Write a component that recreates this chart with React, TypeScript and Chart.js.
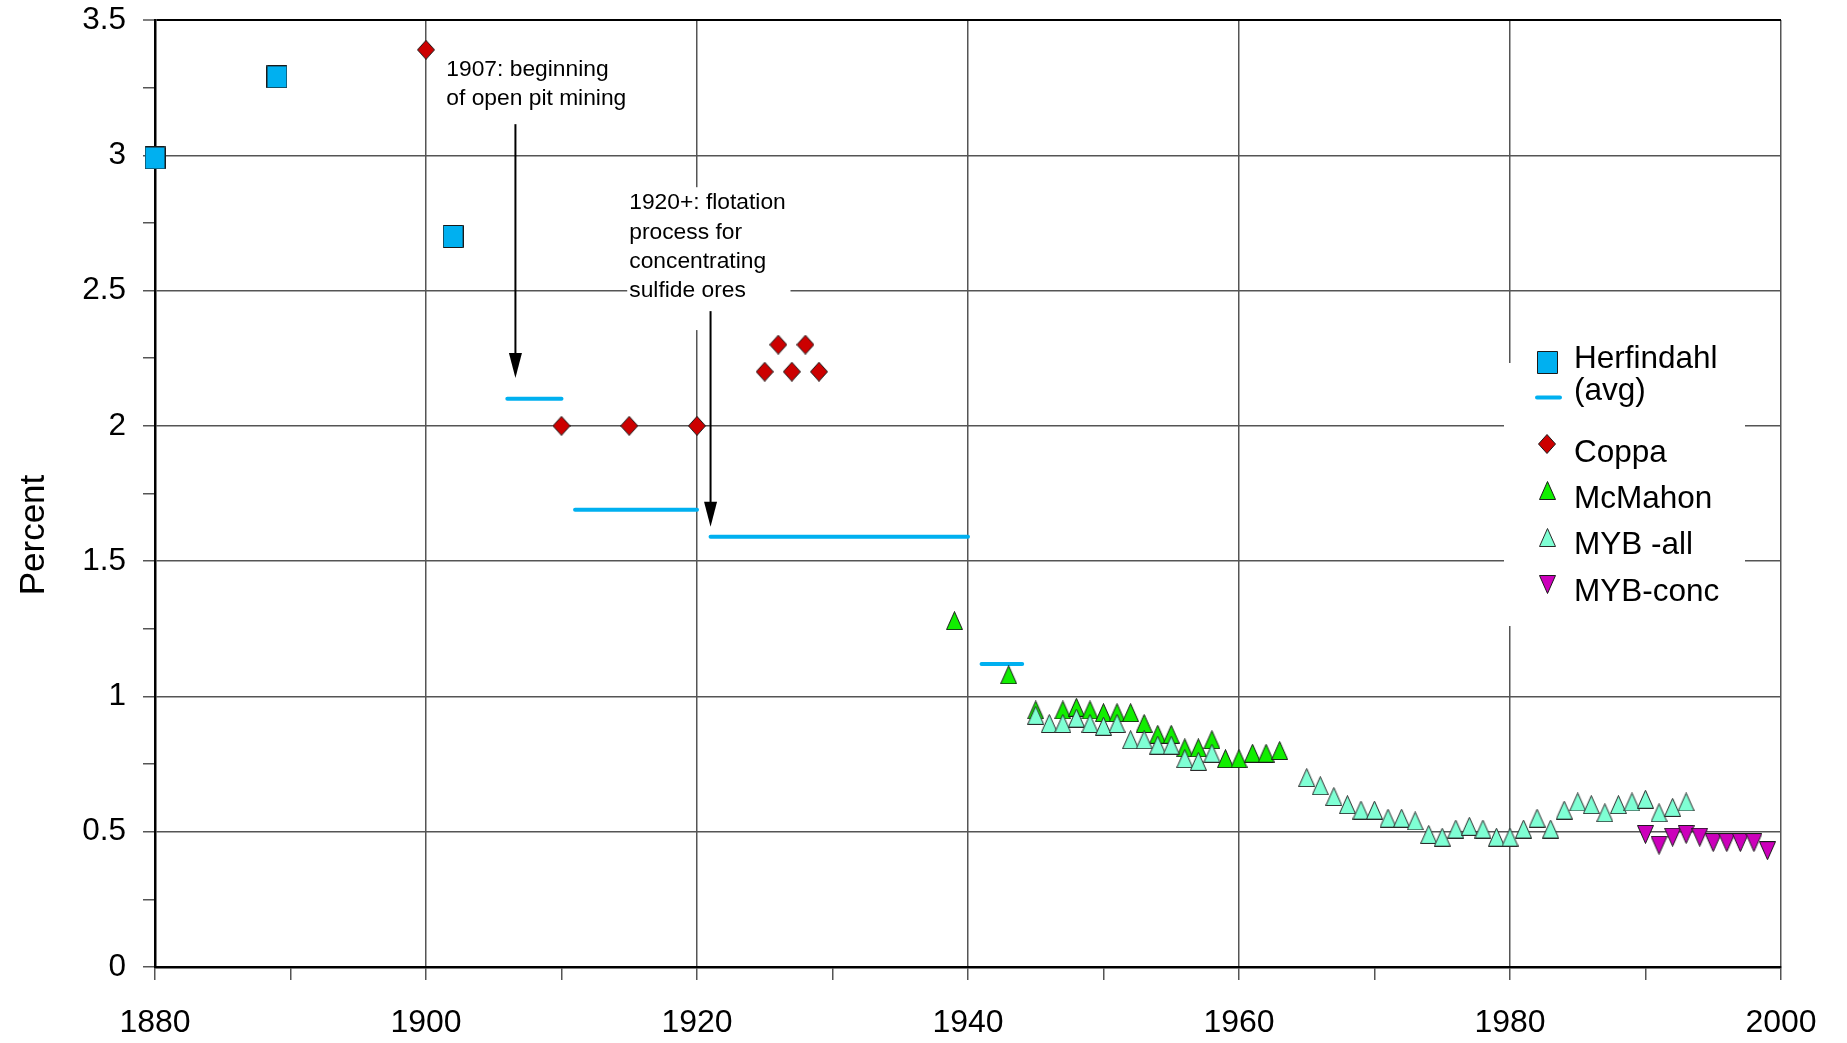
import React, { useEffect, useRef } from 'react';
import { Chart, registerables } from 'chart.js';

Chart.register(...registerables);

// ---------------- data ----------------
const herfYears = [1880, 1889, 1902];
const herfValues = [2.99, 3.29, 2.7];

const avgStartYears = [1906, 1911, 1921, 1941];
const avgEndYears = [1910, 1920, 1940, 1944];
const avgValues = [2.1, 1.69, 1.59, 1.12];

const coppaYears = [1900, 1910, 1915, 1920, 1925, 1926, 1927, 1928, 1929];
const coppaValues = [3.39, 2.0, 2.0, 2.0, 2.2, 2.3, 2.2, 2.3, 2.2];

const mcmahonYears = [1939, 1943, 1945, 1947, 1948, 1949, 1950, 1951, 1952, 1953, 1954, 1955, 1956, 1957, 1958, 1959, 1960, 1961, 1962, 1963];
const mcmahonValues = [1.28, 1.08, 0.95, 0.95, 0.96, 0.95, 0.94, 0.94, 0.94, 0.9, 0.86, 0.86, 0.81, 0.81, 0.84, 0.77, 0.77, 0.79, 0.79, 0.8];

const mybAllYears = [
  1945, 1946, 1947, 1948, 1949, 1950, 1951, 1952, 1953, 1954, 1955, 1956, 1957, 1958,
  1965, 1966, 1967, 1968, 1969, 1970, 1971, 1972, 1973, 1974, 1975, 1976, 1977, 1978, 1979,
  1980, 1981, 1982, 1983, 1984, 1985, 1986, 1987, 1988, 1989, 1990, 1991, 1992, 1993,
];
const mybAllValues = [
  0.93, 0.9, 0.9, 0.92, 0.9, 0.89, 0.9, 0.84, 0.84, 0.82, 0.82, 0.77, 0.76, 0.79,
  0.7, 0.67, 0.63, 0.6, 0.58, 0.58, 0.55, 0.55, 0.54, 0.49, 0.48, 0.51, 0.52, 0.51, 0.48,
  0.48, 0.51, 0.55, 0.51, 0.58, 0.61, 0.6, 0.57, 0.6, 0.61, 0.62, 0.57, 0.59, 0.61,
];

const mybConcYears = [1990, 1991, 1992, 1993, 1994, 1995, 1996, 1997, 1998, 1999];
const mybConcValues = [0.49, 0.45, 0.48, 0.49, 0.48, 0.46, 0.46, 0.46, 0.46, 0.43];

const xTickLabels = ['1880', '1900', '1920', '1940', '1960', '1980', '2000'];
const yTickLabels = ['0', '0.5', '1', '1.5', '2', '2.5', '3', '3.5'];

const yAxisTitle = 'Percent';

const note1Lines = ['1907: beginning', 'of open pit mining'];
const note2Lines = ['1920+: flotation', 'process for', 'concentrating', 'sulfide ores'];

// annotation anchors in data units (year, percent)
const note1Anchor = { x: 1901.5, y: 3.293 };
const arrow1 = { x: 1906.6, from: 3.115, to: 2.177 };
const note2Anchor = { x: 1915.0, y: 2.8 };
const note2Box = { x1: 1914.85, x2: 1926.9, y1: 2.882, y2: 2.354 };
const arrow2 = { x: 1921.0, from: 2.424, to: 1.627 };

// ---------------- styles ----------------
const FONT = "'Liberation Sans', Arial, Helvetica, sans-serif";
const BLUE = '#00B0F0';

function makeMarker(shape: string, w: number, h: number, fill: string, stroke: string) {
  const c = document.createElement('canvas');
  c.width = w;
  c.height = h;
  const g = c.getContext('2d')!;
  g.fillStyle = fill;
  g.strokeStyle = stroke;
  g.lineWidth = 1;
  g.lineJoin = 'miter';
  const l = 0.5, t = 0.5, r = w - 0.5, b = h - 0.5;
  g.beginPath();
  if (shape === 'square') {
    g.rect(l, t, r - l, b - t);
  } else if (shape === 'diamond') {
    g.moveTo(w / 2, t);
    g.lineTo(r, h / 2);
    g.lineTo(w / 2, b);
    g.lineTo(l, h / 2);
    g.closePath();
  } else if (shape === 'tri') {
    g.moveTo(w / 2, t);
    g.lineTo(r, b);
    g.lineTo(l, b);
    g.closePath();
  } else {
    g.moveTo(l, t);
    g.lineTo(r, t);
    g.lineTo(w / 2, b);
    g.closePath();
  }
  g.fill();
  g.stroke();
  return c;
}

function pts(xs: number[], ys: number[]) {
  return xs.map((x, i) => ({ x, y: ys[i] }));
}

function drawArrow(ctx: CanvasRenderingContext2D, x: number, y0: number, y1: number) {
  const headLen = 25;
  const half = 6.5;
  ctx.beginPath();
  ctx.moveTo(x, y0);
  ctx.lineTo(x, y1 - headLen + 2);
  ctx.lineWidth = 2;
  ctx.strokeStyle = '#000';
  ctx.stroke();
  ctx.beginPath();
  ctx.moveTo(x, y1);
  ctx.lineTo(x - half, y1 - headLen);
  ctx.lineTo(x + half, y1 - headLen);
  ctx.closePath();
  ctx.fillStyle = '#000';
  ctx.fill();
}

const LEGEND = {
  box: { left: 1504, top: 363, right: 1745, bottom: 626 },
  markerX: 1547,
  textX: 1574,
  font: `31.5px ${FONT}`,
};

const decorPlugin = {
  id: 'decor',
  beforeDatasetsDraw(chart: any) {
    const { ctx, scales } = chart;
    const x = scales.x, y = scales.y;
    ctx.save();
    ctx.fillStyle = '#fff';
    // white background behind flotation note
    const bx1 = x.getPixelForValue(note2Box.x1);
    const bx2 = x.getPixelForValue(note2Box.x2);
    const by1 = y.getPixelForValue(note2Box.y1);
    const by2 = y.getPixelForValue(note2Box.y2);
    ctx.fillRect(bx1, by1, bx2 - bx1, by2 - by1);
    // legend background
    const b = LEGEND.box;
    ctx.fillRect(b.left, b.top, b.right - b.left, b.bottom - b.top);
    ctx.restore();
  },
  afterDatasetsDraw(chart: any) {
    const { ctx, scales } = chart;
    const x = scales.x, y = scales.y;
    ctx.save();
    // notes
    ctx.fillStyle = '#000';
    ctx.font = `22.8px ${FONT}`;
    ctx.textAlign = 'left';
    ctx.textBaseline = 'alphabetic';
    const n1x = x.getPixelForValue(note1Anchor.x);
    const n1y = y.getPixelForValue(note1Anchor.y);
    note1Lines.forEach((s, i) => ctx.fillText(s, n1x, n1y + i * 29));
    const n2x = x.getPixelForValue(note2Anchor.x);
    const n2y = y.getPixelForValue(note2Anchor.y);
    note2Lines.forEach((s, i) => ctx.fillText(s, n2x, n2y + i * 29.2));
    drawArrow(ctx, x.getPixelForValue(arrow1.x), y.getPixelForValue(arrow1.from), y.getPixelForValue(arrow1.to));
    drawArrow(ctx, x.getPixelForValue(arrow2.x), y.getPixelForValue(arrow2.from), y.getPixelForValue(arrow2.to));

    // y axis title
    ctx.save();
    ctx.translate(44, 535);
    ctx.rotate(-Math.PI / 2);
    ctx.font = `35px ${FONT}`;
    ctx.textAlign = 'center';
    ctx.fillText(yAxisTitle, 0, 0);
    ctx.restore();

    // legend
    const ds = chart.data.datasets;
    const byId = (id: string) => ds.find((d: any) => d.id === id);
    ctx.font = LEGEND.font;
    ctx.fillStyle = '#000';
    const rows = [
      { id: 'herf', my: 362.5, ty: 368 },
      { id: 'avg', my: 397.5, ty: 400 },
      { id: 'coppa', my: 444, ty: 462 },
      { id: 'mcmahon', my: 490.5, ty: 508 },
      { id: 'myball', my: 537, ty: 554 },
      { id: 'mybconc', my: 584, ty: 601 },
    ];
    rows.forEach((r) => {
      const d: any = byId(r.id);
      if (!d) return;
      if (d.showLine) {
        ctx.save();
        ctx.strokeStyle = d.borderColor;
        ctx.lineWidth = d.borderWidth;
        ctx.lineCap = 'round';
        ctx.beginPath();
        ctx.moveTo(LEGEND.markerX - 10, r.my);
        ctx.lineTo(LEGEND.markerX + 13, r.my);
        ctx.stroke();
        ctx.restore();
      } else {
        const m = d.pointStyle as HTMLCanvasElement;
        ctx.drawImage(m, Math.round(LEGEND.markerX - m.width / 2), Math.round(r.my - m.height / 2));
      }
      ctx.fillStyle = '#000';
      ctx.fillText(d.label, LEGEND.textX, r.ty);
    });
    ctx.restore();
  },
};

export default function App() {
  const ref = useRef<HTMLCanvasElement | null>(null);

  useEffect(() => {
    document.body.style.margin = '0';
    const canvas = ref.current!;
    const mSquare = makeMarker('square', 21, 23, BLUE, '#1a1a1a');
    const mDiamond = makeMarker('diamond', 18, 20, '#CC0000', '#1a1a1a');
    const mGreen = makeMarker('tri', 17, 19, '#11EE00', '#1a1a1a');
    const mAqua = makeMarker('tri', 17, 19, '#7FFFD4', '#2a2a2a');
    const mMagenta = makeMarker('triDown', 17, 19, '#CC00BB', '#1a1a1a');

    const avgData: any[] = [];
    avgStartYears.forEach((s, i) => {
      avgData.push({ x: s, y: avgValues[i] });
      avgData.push({ x: avgEndYears[i], y: avgValues[i] });
      avgData.push({ x: avgEndYears[i], y: null });
    });

    const pointDs = (id: string, label: string, data: any[], marker: HTMLCanvasElement) => ({
      id,
      label,
      data,
      pointStyle: marker,
      pointRadius: 10,
      pointHoverRadius: 10,
      showLine: false,
      clip: false as any,
    });

    const chart = new Chart(canvas, {
      type: 'scatter',
      data: {
        datasets: [
          pointDs('mybconc', 'MYB-conc', pts(mybConcYears, mybConcValues), mMagenta),
          pointDs('myball', 'MYB -all', pts(mybAllYears, mybAllValues), mAqua),
          pointDs('mcmahon', 'McMahon', pts(mcmahonYears, mcmahonValues), mGreen),
          pointDs('coppa', 'Coppa', pts(coppaYears, coppaValues), mDiamond),
          pointDs('herf', 'Herfindahl', pts(herfYears, herfValues), mSquare),
          {
            id: 'avg',
            label: '(avg)',
            data: avgData,
            showLine: true,
            spanGaps: false,
            borderColor: BLUE,
            backgroundColor: BLUE,
            borderWidth: 4,
            borderCapStyle: 'round',
            pointRadius: 0,
            pointHoverRadius: 0,
            clip: false as any,
          } as any,
        ] as any,
      },
      options: {
        responsive: false,
        animation: false,
        devicePixelRatio: 1,
        events: [],
        layout: { padding: { top: 20, right: 66, bottom: 0, left: 0 } },
        plugins: {
          legend: { display: false },
          tooltip: { enabled: false },
          title: { display: false },
        },
        scales: {
          x: {
            type: 'linear',
            min: 1880,
            max: 2000,
            afterFit: (s: any) => {
              s.height = 76;
              s.paddingLeft = 0;
              s.paddingRight = 0;
            },
            ticks: {
              stepSize: 10,
              autoSkip: false,
              maxRotation: 0,
              minRotation: 0,
              padding: 24,
              color: '#000',
              font: { family: FONT, size: 32 },
              callback: (v: any) => (xTickLabels.includes(String(v)) ? String(v) : ''),
            },
            grid: {
              color: (c: any) => (c.tick && xTickLabels.includes(String(c.tick.value)) ? '#555' : 'rgba(0,0,0,0)'),
              lineWidth: 1.5,
              tickLength: 13,
              tickColor: '#555',
              tickWidth: 1.5,
            },
            border: { display: true, color: '#000', width: 2.5 },
          },
          y: {
            type: 'linear',
            min: 0,
            max: 3.5,
            afterFit: (s: any) => {
              s.width = 155;
              s.paddingTop = 0;
              s.paddingBottom = 0;
            },
            ticks: {
              stepSize: 0.25,
              autoSkip: false,
              padding: 17,
              color: '#000',
              font: { family: FONT, size: 31.5 },
              callback: (v: any) => (yTickLabels.includes(String(v)) ? String(v) : ''),
            },
            grid: {
              color: (c: any) => {
                if (!c.tick) return 'rgba(0,0,0,0)';
                const s = String(c.tick.value);
                if (s === '3.5') return '#000';
                return yTickLabels.includes(s) ? '#555' : 'rgba(0,0,0,0)';
              },
              lineWidth: (c: any) => (c.tick && c.tick.value === 3.5 ? 2 : 1.5),
              tickLength: 12,
              tickColor: '#555',
              tickWidth: 1.5,
            },
            border: { display: true, color: '#000', width: 2.5 },
          },
        },
      } as any,
      plugins: [decorPlugin],
    });

    return () => chart.destroy();
  }, []);

  return (
    <canvas
      ref={ref}
      width={1847}
      height={1043}
      style={{ display: 'block', width: '1847px', height: '1043px', background: '#fff' }}
    />
  );
}
